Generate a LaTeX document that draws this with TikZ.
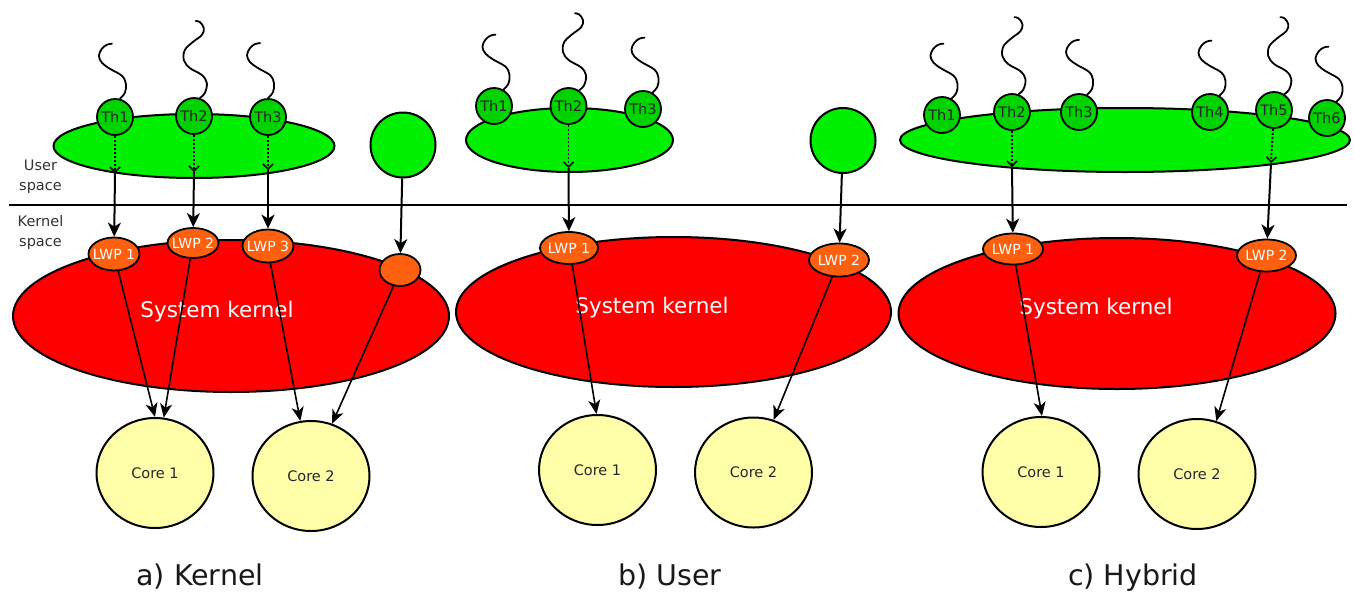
\documentclass[tikz,border=0pt]{standalone}
\usepackage{fontspec}
\setmainfont{DejaVu Sans}
\usetikzlibrary{shapes.geometric,arrows.meta}

\definecolor{usergreen}{HTML}{00F000}
\definecolor{thgreen}{HTML}{00D200}
\definecolor{kernred}{HTML}{FF0000}
\definecolor{lwporange}{HTML}{FF6010}
\definecolor{coreyellow}{HTML}{FFFFAA}
\definecolor{labelgray}{HTML}{333333}

\newcommand\fs[1]{\fontsize{#1}{#1}\selectfont}

% a thread's "tail": one S-shaped wiggle, or a longer one with an extra bend
\newcommand\shortsq[1]{\draw[squig, shift={(#1)}] plot[smooth, tension=0.6]
  coordinates {(0,0) (5,-6) (6,-15) (2,-23) (-10,-30) (-18,-36) (-21,-43) (-18,-50) (-13,-54) (-8,-55)};}
\newcommand\longsq[1]{\draw[squig, shift={(#1)}] plot[smooth, tension=0.6]
  coordinates {(0,0) (5,-5) (7,-15) (2,-23) (-10,-30) (-16,-38) (-15,-48) (-7,-56) (2,-63) (4,-70) (0,-76) (-4,-77)};}

\tikzset{
  uspace/.style={ellipse, draw, line width=2pt, fill=usergreen, inner sep=0pt},
  thr/.style={circle, draw, line width=1.8pt, fill=thgreen, minimum size=36pt,
    inner sep=0pt, font=\fs{14.5}, text=black!85},
  proc/.style={circle, draw, line width=2pt, fill=usergreen, minimum size=65pt, inner sep=0pt},
  kern/.style={ellipse, draw, line width=2pt, fill=kernred, inner sep=0pt},
  lwp/.style={ellipse, draw, line width=1.8pt, fill=lwporange, inner sep=0pt},
  lwptext/.style={text=white, font=\fs{14}, inner sep=0pt},
  core/.style={ellipse, draw, line width=2pt, fill=coreyellow, inner sep=0pt,
    minimum width=117pt, minimum height=110pt, font=\fs{14.5}, text=black!85},
  kname/.style={text=white, font=\fs{21.5}},
  caption/.style={font=\fs{28.5}, anchor=base, text=black!90},
  spacelbl/.style={align=center, font=\fontsize{14.5}{20}\selectfont, text=labelgray},
  map/.style={line width=2pt, -{Stealth[length=14pt,width=13pt,inset=4pt]}},
  run/.style={line width=1.6pt, -{Stealth[length=14pt,width=12pt,inset=4pt]}},
  bound/.style={line width=1.8pt, dash pattern=on 2pt off 2pt,
    -{Straight Barb[length=5pt,width=10pt,line width=1.5pt]}},
  squig/.style={line width=1.8pt, line cap=round, line join=round},
}

\begin{document}
\begin{tikzpicture}[x=1pt, y=-1pt]
\fill[white] (0,0) rectangle (1354,592);
\useasboundingbox (0,0) rectangle (1354,592);

% user / kernel boundary
\coordinate (divl) at (9,205);
\coordinate (divr) at (1347,205);
\draw[line width=1.6pt] (divl) -- (divr);
\node[spacelbl] (usrlbl) at (40.5,177) {User\\space};
\node[spacelbl] (krnlbl) at (40.5,232) {Kernel\\space};

%%%%%%%%%% a) Kernel %%%%%%%%%%
\node[uspace, minimum width=281pt, minimum height=64pt] (a-us) at (194,146) {};
\node[thr] (a-th1) at (115,117) {Th1};
\node[thr] (a-th2) at (194,116) {Th2};
\node[thr] (a-th3) at (268,117) {Th3};
\shortsq{a-th1.75}
\longsq{a-th2.72}
\shortsq{a-th3.90}
\node[proc] (a-pr) at (403,145) {};

\node[kern, minimum width=436pt, minimum height=152pt] (a-k) at (231,316) {};
\node[kname] (a-kn) at (217,312) {System kernel};
\node[lwp, minimum width=51pt, minimum height=33pt, label={[lwptext]center:LWP 1}] (a-l1) at (114,254) {};
\node[lwp, minimum width=51pt, minimum height=30pt, label={[lwptext]center:LWP 2}] (a-l2) at (193,243) {};
\node[lwp, minimum width=51pt, minimum height=33pt, label={[lwptext]center:LWP 3}] (a-l3) at (268,246) {};
\node[lwp, minimum width=41pt, minimum height=32pt] (a-l4) at (400,270) {};

\node[core] (a-c1) at (155,473) {Core 1};
\node[core] (a-c2) at (311,476) {Core 2};

\coordinate (a-b1) at (115,173);
\coordinate (a-b2) at (194,172);
\coordinate (a-b3) at (268,170);
\draw[bound] (a-th1) -- (a-b1);
\draw[bound] (a-th2) -- (a-b2);
\draw[bound] (a-th3) -- (a-b3);
\draw[map] (a-b1) -- (a-l1);
\draw[map] (a-b2) -- (a-l2);
\draw[map] (a-b3) -- (a-l3);
\draw[map] (a-pr) -- (a-l4);
\draw[run] (a-l1.-76) -- (a-c1.90);
\draw[run] (a-l2.-100) -- (a-c1.81);
\draw[run] (a-l3.-82) -- (a-c2.101);
\draw[run] (a-l4.-112) -- (a-c2.68);

%%%%%%%%%% b) User %%%%%%%%%%
\node[uspace, minimum width=207pt, minimum height=64pt] (b-us) at (569.5,140) {};
\node[thr] (b-th1) at (494,106) {Th1};
\node[thr] (b-th2) at (568.5,106) {Th2};
\node[thr] (b-th3) at (643,109) {Th3};
\shortsq{b-th1.60}
\longsq{b-th2.56}
\shortsq{b-th3.60}
\node[proc] (b-pr) at (843,140.5) {};

\node[kern, minimum width=435pt, minimum height=150pt] (b-k) at (673.5,312) {};
\node[kname] (b-kn) at (652,308) {System kernel};
\node[lwp, minimum width=58pt, minimum height=32pt, label={[lwptext]center:LWP 1}] (b-l1) at (569,248) {};
\node[lwp, minimum width=60pt, minimum height=33pt, label={[lwptext]center:LWP 2}] (b-l2) at (839,260) {};

\node[core] (b-c1) at (597.5,470) {Core 1};
\node[core] (b-c2) at (753.5,472.5) {Core 2};

\coordinate (b-b2) at (568.5,168);
\draw[bound] (b-th2) -- (b-b2);
\draw[map] (b-b2) -- (b-l1);
\draw[map] (b-pr) -- (b-l2);
\draw[run] (b-l1.-79) -- (b-c1.91);
\draw[run] (b-l2.-112) -- (b-c2.69);

%%%%%%%%%% c) Hybrid %%%%%%%%%%
\node[uspace, minimum width=450pt, minimum height=64pt] (c-us) at (1125,140) {};
\node[thr] (c-th1) at (942,115) {Th1};
\node[thr] (c-th2) at (1012,112) {Th2};
\node[thr] (c-th3) at (1079,112) {Th3};
\node[thr] (c-th4) at (1210,112) {Th4};
\node[thr] (c-th5) at (1274,110) {Th5};
\node[thr] (c-th6) at (1327,118) {Th6};
\shortsq{c-th1.60}
\longsq{c-th2.70}
\shortsq{c-th3.65}
\shortsq{c-th4.60}
\longsq{c-th5.57}
\shortsq{c-th6.60}

\node[kern, minimum width=437pt, minimum height=151pt] (c-k) at (1117,313.5) {};
\node[kname] (c-kn) at (1096,309) {System kernel};
\node[lwp, minimum width=60pt, minimum height=31pt, label={[lwptext]center:LWP 1}] (c-l1) at (1013,249) {};
\node[lwp, minimum width=59pt, minimum height=32pt, label={[lwptext]center:LWP 2}] (c-l2) at (1266.5,255.5) {};

\node[core] (c-c1) at (1041,472) {Core 1};
\node[core] (c-c2) at (1197,474) {Core 2};

\coordinate (c-b2) at (1012,167);
\coordinate (c-b5) at (1271,163);
\draw[bound] (c-th2) -- (c-b2);
\draw[bound] (c-th5) -- (c-b5);
\draw[map] (c-b2) -- (c-l1);
\draw[map] (c-b5) -- (c-l2);
\draw[run] (c-l1.-80) -- (c-c1.89);
\draw[run] (c-l2.-111) -- (c-c2.70);

% captions
\node[caption] (cap-a) at (200,585) {a) Kernel};
\node[caption] (cap-b) at (670,585) {b) User};
\node[caption] (cap-c) at (1133,585) {c) Hybrid};
\end{tikzpicture}
\end{document}
